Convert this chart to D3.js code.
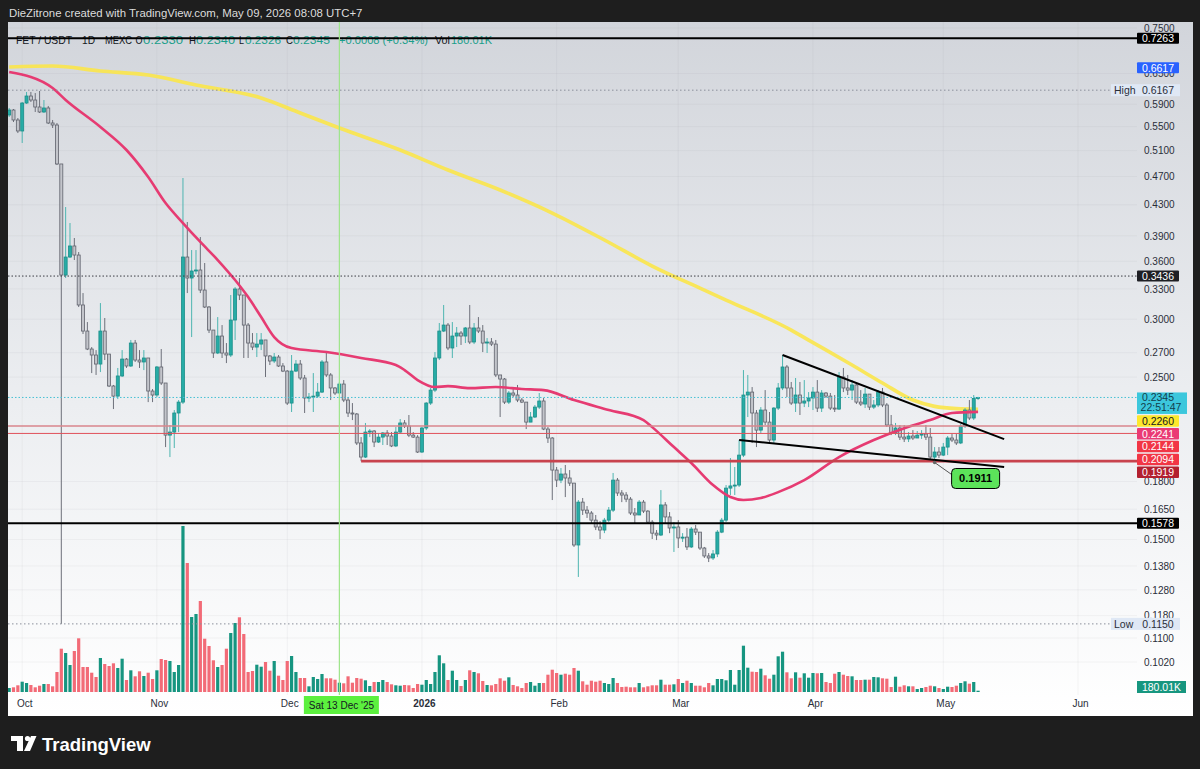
<!DOCTYPE html>
<html><head><meta charset="utf-8">
<script src="https://cdnjs.cloudflare.com/ajax/libs/d3/7.8.5/d3.min.js"></script>
<style>html,body{margin:0;padding:0;background:#1e1e1e;}svg{display:block}</style>
</head><body>
<svg id="chart" width="1200" height="769"></svg>
<script>
// ---------------- DATA ----------------
const startDay = "2025-09-28";   // first daily candle
const endDay = "2026-05-09";     // last daily candle
const firstOpen = 0.5704;
const closes = [0.5794,0.5615,0.5424,
0.5923,0.6055,0.5979,0.5849,0.5758,0.5831,0.5562,0.5527,0.4889,0.3447,0.3648,0.3777,0.3671,0.3137,0.2890,0.2731,0.2680,0.2605,0.2890,0.2688,0.2431,0.2355,0.2509,0.2646,0.2589,0.2783,0.2638,0.2622,0.2655,0.2393,0.2363,
0.2581,0.2454,0.2083,0.2103,0.2233,0.2311,0.3648,0.3415,0.3491,0.3502,0.3288,0.3117,0.2899,0.2697,0.2845,0.2697,0.2680,0.2992,0.3299,0.3237,0.2945,0.2783,0.2748,0.2774,0.2810,0.2672,0.2630,0.2663,0.2589,0.2548,
0.2304,0.2548,0.2605,0.2493,0.2341,0.2348,0.2355,0.2385,0.2622,0.2517,0.2416,0.2378,0.2446,0.2326,0.2233,0.2226,0.2032,0.1944,0.2103,0.2110,0.2038,0.2070,0.2097,0.2077,0.2013,0.2103,0.2164,0.2143,0.2083,0.2070,0.1975,
0.2130,0.2304,0.2400,0.2655,0.2890,0.2945,0.2740,0.2845,0.2872,0.2845,0.2918,0.2792,0.2918,0.2890,0.2783,0.2792,0.2774,0.2517,0.2485,0.2311,0.2378,0.2363,0.2326,0.2311,0.2170,0.2205,0.2275,0.2319,0.2123,0.2064,0.1866,
0.1808,0.1843,0.1820,0.1791,0.1474,0.1687,0.1645,0.1630,0.1594,0.1560,0.1545,0.1594,0.1645,0.1808,0.1736,0.1725,0.1703,0.1630,0.1620,0.1687,0.1640,0.1584,0.1530,0.1521,0.1672,0.1610,0.1555,0.1560,
0.1507,0.1511,0.1465,0.1550,0.1535,0.1460,0.1424,0.1415,0.1433,0.1535,0.1594,0.1763,0.1775,0.1780,0.1956,0.2363,0.2385,0.2233,0.2116,0.2254,0.2170,0.2051,0.2268,0.2416,0.2581,0.2416,0.2304,0.2363,0.2304,0.2319,0.2341,
0.2385,0.2268,0.2378,0.2355,0.2268,0.2261,0.2501,0.2416,0.2400,0.2439,0.2311,0.2297,0.2370,0.2275,0.2290,0.2385,0.2290,0.2150,0.2097,0.2130,0.2070,0.2058,0.2077,0.2064,0.2083,0.2090,0.2070,0.1944,0.1975,0.1956,
0.2006,0.2064,0.2051,0.2032,0.2143,0.2254,0.2198,0.2337,0.2345];
const highs = [0.5831,0.5812,0.5650,
0.5942,0.6132,0.6132,0.6112,0.6151,0.5979,0.5868,0.5615,0.5562,0.4889,0.4270,0.4060,0.3873,0.3706,0.3257,0.2973,0.2748,0.2722,0.3156,0.3011,0.2680,0.2439,0.2573,0.2722,0.2655,0.2810,0.2810,0.2722,0.2722,0.2638,0.2408,
0.2589,0.2731,0.2454,0.2150,0.2254,0.2326,0.4678,0.4073,0.3729,0.3729,0.3885,0.3580,0.3127,0.2899,0.3020,0.2945,0.2783,0.3237,0.3319,0.3415,0.3156,0.2964,0.2872,0.2872,0.2872,0.2810,0.2680,0.2697,0.2680,0.2613,
0.2556,0.2680,0.2638,0.2638,0.2517,0.2378,0.2532,0.2454,0.2638,0.2705,0.2532,0.2423,0.2462,0.2477,0.2348,0.2304,0.2233,0.2070,0.2164,0.2123,0.2116,0.2097,0.2103,0.2116,0.2103,0.2137,0.2191,0.2184,0.2219,0.2103,0.2083,
0.2137,0.2311,0.2416,0.2705,0.2964,0.3137,0.2964,0.2973,0.2927,0.2890,0.2927,0.3137,0.2964,0.3020,0.2945,0.2827,0.2827,0.2810,0.2517,0.2493,0.2393,0.2423,0.2439,0.2341,0.2311,0.2240,0.2290,0.2378,0.2341,0.2137,0.2070,
0.1884,0.1878,0.1896,0.1866,0.1791,0.1698,0.1709,0.1666,0.1640,0.1620,0.1589,0.1605,0.1661,0.1849,0.1820,0.1752,0.1741,0.1714,0.1656,0.1698,0.1698,0.1645,0.1594,0.1545,0.1752,0.1687,0.1635,0.1584,
0.1594,0.1530,0.1555,0.1560,0.1570,0.1535,0.1465,0.1437,0.1451,0.1545,0.1605,0.1780,0.1938,0.1884,0.2051,0.2556,0.2517,0.2423,0.2254,0.2275,0.2400,0.2240,0.2275,0.2454,0.2680,0.2597,0.2462,0.2493,0.2462,0.2477,0.2385,
0.2423,0.2477,0.2400,0.2385,0.2378,0.2363,0.2540,0.2573,0.2517,0.2477,0.2454,0.2400,0.2416,0.2341,0.2326,0.2400,0.2416,0.2304,0.2219,0.2164,0.2150,0.2150,0.2103,0.2116,0.2110,0.2116,0.2150,0.2130,0.2006,0.2006,
0.2032,0.2077,0.2090,0.2090,0.2157,0.2268,0.2326,0.2363,0.2349];
const lows = [0.5668,0.5579,0.5389,
0.5223,0.5905,0.5942,0.5758,0.5740,0.5740,0.5544,0.5475,0.4873,0.1150,0.3415,0.3637,0.3614,0.3117,0.2863,0.2722,0.2532,0.2517,0.2540,0.2638,0.2423,0.2261,0.2333,0.2501,0.2573,0.2581,0.2622,0.2573,0.2556,0.2311,0.2311,
0.2348,0.2439,0.2006,0.1944,0.2000,0.2103,0.2297,0.3257,0.2836,0.3458,0.3257,0.3107,0.2872,0.2655,0.2688,0.2655,0.2613,0.2663,0.2810,0.3186,0.2655,0.2655,0.2722,0.2663,0.2722,0.2501,0.2597,0.2613,0.2581,0.2540,
0.2290,0.2240,0.2540,0.2477,0.2233,0.2311,0.2240,0.2341,0.2378,0.2501,0.2326,0.2363,0.2378,0.2311,0.2205,0.2184,0.2019,0.1919,0.1938,0.2070,0.2006,0.2032,0.2019,0.2019,0.2006,0.2006,0.2097,0.2130,0.2070,0.2064,0.1969,
0.1969,0.2116,0.2290,0.2385,0.2638,0.2881,0.2722,0.2655,0.2748,0.2766,0.2783,0.2774,0.2774,0.2872,0.2705,0.2697,0.2757,0.2501,0.2205,0.2297,0.2297,0.2348,0.2311,0.2304,0.2123,0.2170,0.2198,0.2261,0.2116,0.2032,0.1698,
0.1769,0.1791,0.1714,0.1775,0.1465,0.1333,0.1620,0.1605,0.1579,0.1545,0.1502,0.1530,0.1584,0.1635,0.1720,0.1687,0.1687,0.1620,0.1579,0.1620,0.1630,0.1579,0.1502,0.1497,0.1516,0.1579,0.1530,0.1442,
0.1460,0.1488,0.1451,0.1460,0.1521,0.1451,0.1415,0.1397,0.1406,0.1419,0.1530,0.1584,0.1725,0.1725,0.1769,0.1944,0.2205,0.2032,0.2006,0.2097,0.2150,0.2032,0.2032,0.2254,0.2400,0.2348,0.2290,0.2240,0.2219,0.2275,0.2275,
0.2254,0.2240,0.2240,0.2341,0.2254,0.2240,0.2254,0.2385,0.2363,0.2326,0.2297,0.2283,0.2268,0.2254,0.2261,0.2275,0.2275,0.2137,0.2083,0.2083,0.2051,0.2038,0.2038,0.2051,0.2064,0.2058,0.2051,0.1932,0.1911,0.1938,
0.1950,0.1956,0.2038,0.2019,0.2025,0.2130,0.2184,0.2184,0.2326];
// volume in thousands
const volumesK = [554,651,928,
1427,1247,970,651,873,1108,1108,789,2770,5997,5402,3740,5679,7437,3463,3463,2673,2078,4709,3878,3601,3975,3324,4612,1662,3005,2174,2867,2216,2673,1801,
3005,4571,4432,4294,2770,3740,22991,17867,10388,10803,12604,7382,6371,4390,3463,3740,5997,8172,9557,10346,8033,2770,2909,3781,3504,4155,2950,4294,2258,1662,
4294,4986,2770,1939,1939,789,2078,1801,2493,1897,1897,1704,1288,1205,2174,1288,1939,1842,1620,831,1385,1385,1662,1385,1066,928,873,970,928,554,1108,
1011,1662,1108,2770,5083,3975,1662,2950,1662,831,1662,3005,2770,2590,1524,970,928,1108,1897,1565,2036,970,789,554,1247,1385,873,1247,1247,2396,3089,
2632,2396,2535,2396,3324,2950,1482,1011,1565,1427,1565,1247,1108,1939,1247,693,734,651,651,1247,651,789,928,928,1704,1011,1011,1066,
1801,1247,1565,1247,873,873,651,1247,928,1801,1801,1620,3047,1011,3047,6413,3366,2812,2770,3227,2313,1842,2396,4944,5582,2728,1897,2728,1981,2590,1981,
2632,2590,2632,1385,1247,2535,2770,2396,2216,2174,1662,1662,1704,1704,2078,2036,1897,1842,693,2119,734,928,789,789,416,554,693,873,789,554,
416,734,693,873,1247,1482,1150,1385,180.01];

// moving averages (read at sample dates)
const ma200Dates = ["2025-09-28","2025-10-08","2025-10-19","2025-10-30","2025-11-10","2025-11-25","2025-12-04","2025-12-13","2025-12-27","2026-01-07","2026-01-19","2026-01-31","2026-02-12","2026-02-23","2026-03-07","2026-03-12","2026-03-27","2026-03-31","2026-04-10","2026-04-17","2026-04-24","2026-04-29","2026-05-04","2026-05-09"];
const ma200Values = [0.6633,0.6654,0.6550,0.6468,0.6269,0.6018,0.5740,0.5475,0.5109,0.4797,0.4505,0.4190,0.3849,0.3546,0.3288,0.3186,0.2899,0.2809,0.2597,0.2454,0.2326,0.2280,0.2264,0.2260];
const ma50Dates = ["2025-09-28","2025-10-08","2025-10-11","2025-10-19","2025-10-25","2025-10-30","2025-11-03","2025-11-07","2025-11-11","2025-11-15","2025-11-19","2025-11-22","2025-11-25","2025-11-28","2025-12-02","2025-12-10","2025-12-18","2025-12-26","2025-12-28","2025-12-31","2026-01-04","2026-01-07","2026-01-12","2026-01-18","2026-01-24","2026-01-29","2026-02-05","2026-02-13","2026-02-21","2026-02-23","2026-02-28","2026-03-04","2026-03-09","2026-03-13","2026-03-16","2026-03-20","2026-03-24","2026-03-30","2026-04-07","2026-04-15","2026-04-22","2026-04-28","2026-05-03","2026-05-09"];
const ma50Values = [0.6530,0.6210,0.5980,0.5493,0.5109,0.4693,0.4324,0.4060,0.3825,0.3614,0.3393,0.3216,0.3020,0.2836,0.2739,0.2705,0.2655,0.2597,0.2556,0.2477,0.2423,0.2430,0.2415,0.2423,0.2408,0.2400,0.2326,0.2254,0.2184,0.2136,0.2006,0.1908,0.1780,0.1714,0.1698,0.1709,0.1741,0.1808,0.1944,0.2051,0.2129,0.2184,0.2233,0.2241];

const priceTicks = [0.7500,0.6500,0.5900,0.5500,0.5100,0.4700,0.4300,0.3900,0.3600,0.3300,0.3000,0.2700,0.2500,0.1800,0.1650,0.1500,0.1380,0.1280,0.1180,0.1100,0.1020];
const monthTicks = ["2025-10-01","2025-11-01","2025-12-01","2026-01-01","2026-02-01","2026-03-01","2026-04-01","2026-05-01","2026-06-01"];
const monthLabels = ["Oct","Nov","Dec","2026","Feb","Mar","Apr","May","Jun"];

// drawn levels
const blackLevels = [0.7263, 0.1578];
const redLevels = [0.2144, 0.2094];
const supportLevel = 0.1919, supportFrom = "2025-12-18";
const dottedLevel = 0.3436;
const highLevel = 0.6167, lowLevel = 0.1150;
const lastPrice = 0.2345;
const blueMark = 0.6617;
const trendUpper = [["2026-03-25",0.2680],["2026-05-15",0.2057]];
const trendLower = [["2026-03-15",0.2051],["2026-05-15",0.1884]];
const calloutDate = "2026-04-29", calloutPrice = 0.1911;
const markedDay = "2025-12-13", markedLabel = "Sat 13 Dec '25";
const countdown = "22:51:47";
// [text, x, width, kind]
const legendParts = [["FET / USDT",16,56,"k"],["1D",82,13,"k"],["MEXC",105,27,"k"],["O",135.5,7,"k"],["0.2330",143,40,"v"],["H",189,7,"k"],["0.2340",196,39,"v"],["L",239,5,"k"],["0.2326",245,36,"v"],["C",286,7,"k"],["0.2345",293,37,"v"],["+0.0008 (+0.34%)",339,89,"v"],["Vol",435,15,"k"],["180.01K",451,41,"v"]];
const title = "DieZitrone created with TradingView.com, May 09, 2026 08:08 UTC+7";

// ---------------- SETUP ----------------
const n = closes.length;
if (highs.length!==n || lows.length!==n || volumesK.length!==n) throw new Error("length mismatch "+[n,highs.length,lows.length,volumesK.length]);
const pd = d3.utcParse("%Y-%m-%d");
const days = d3.utcDay.range(pd(startDay), d3.utcDay.offset(pd(endDay),1));
if (days.length!==n) throw new Error("days mismatch "+days.length+" vs "+n);

const candles = closes.map((c,i)=>{
  const o = i===0 ? firstOpen : closes[i-1];
  return {date:days[i], o, c, h:Math.max(highs[i],o,c), l:Math.min(lows[i],o,c), v:volumesK[i]};
});

const FONT = "'Liberation Sans', Arial, sans-serif";
const pane = {left:8, right:1137, top:22, bottom:695};
const x = d3.scaleUtc().domain([pd("2025-10-01"), pd("2026-06-01")]).range([22.2, 1078.0]);
const y = d3.scaleLog().domain([0.1020, 0.7500]).range([662, 28]);
const yv = d3.scaleLinear().domain([0, d3.max(volumesK)]).range([692, 526]);

const svg = d3.select("#chart").style("font-family", FONT);
const defs = svg.append("defs");
const g0 = defs.append("linearGradient").attr("id","bg").attr("x1",0).attr("y1",0).attr("x2",0).attr("y2",1);
g0.append("stop").attr("offset","0%").attr("stop-color","#d2d5db");
g0.append("stop").attr("offset","55%").attr("stop-color","#eceef1");
g0.append("stop").attr("offset","100%").attr("stop-color","#ffffff");
defs.append("clipPath").attr("id","clip").append("rect")
  .attr("x",pane.left).attr("y",pane.top).attr("width",pane.right-pane.left).attr("height",pane.bottom-pane.top);

svg.append("rect").attr("width",1200).attr("height",769).attr("fill","#1e1e1e");
svg.append("rect").attr("x",8).attr("y",22).attr("width",1185).attr("height",694).attr("fill","url(#bg)");

// title
svg.append("text").attr("x",9).attr("y",17).attr("fill","#dcdcdc").attr("font-size",11.4).text(title);

// grid
const grid = svg.append("g").attr("clip-path","url(#clip)");
grid.selectAll("line.h").data(priceTicks).join("line")
  .attr("x1",pane.left).attr("x2",pane.right).attr("y1",d=>y(d)).attr("y2",d=>y(d))
  .attr("stroke","#9aa0ab").attr("stroke-opacity",0.10);
grid.selectAll("line.v").data(monthTicks).join("line")
  .attr("x1",d=>x(pd(d))).attr("x2",d=>x(pd(d))).attr("y1",pane.top).attr("y2",pane.bottom)
  .attr("stroke","#9aa0ab").attr("stroke-opacity",0.10);

// legend
const leg = svg.append("g").attr("font-size",11.5);
legendParts.forEach(([t,px,w,k])=>{
  leg.append("text").attr("x",px).attr("y",44).attr("textLength",w).attr("lengthAdjust","spacingAndGlyphs")
    .attr("fill", k==="v" ? "#1a9e8a" : "#131722").text(t);
});

const plot = svg.append("g").attr("clip-path","url(#clip)");

// volume
plot.selectAll("rect.vol").data(candles).join("rect")
  .attr("x",d=>x(d.date)-1.6).attr("width",3.2)
  .attr("y",d=>yv(d.v)).attr("height",d=>Math.max(0.8, yv(0)-yv(d.v)))
  .attr("fill",d=>d.c>=d.o ? "#169580" : "#f26b77");

// MA lines
const maLine = d3.line().x(d=>x(d[0])).y(d=>y(d[1])).curve(d3.curveMonotoneX);
plot.append("path").datum(ma200Dates.map((d,i)=>[pd(d),ma200Values[i]]))
  .attr("d",maLine).attr("fill","none").attr("stroke","#fbe64a").attr("stroke-width",3.6).attr("stroke-opacity",0.9);

// candles
const cg = plot.append("g");
cg.selectAll("line.wick").data(candles).join("line")
  .attr("x1",d=>x(d.date)).attr("x2",d=>x(d.date))
  .attr("y1",d=>y(d.h)).attr("y2",d=>y(d.l))
  .attr("stroke",d=>d.c>=d.o ? "#4db5b0" : "#6d707a").attr("stroke-width",1);
cg.selectAll("rect.body").data(candles).join("rect")
  .attr("x",d=>x(d.date)-1.5).attr("width",3)
  .attr("y",d=>y(Math.max(d.o,d.c)))
  .attr("height",d=>Math.max(1, Math.abs(y(d.o)-y(d.c))))
  .attr("fill",d=>d.c>=d.o ? "#27aca6" : "#c3c5cb")
  .attr("stroke",d=>d.c>=d.o ? "#1b8e89" : "#5f626c").attr("stroke-width",0.8);

plot.append("path").datum(ma50Dates.map((d,i)=>[pd(d),ma50Values[i]]))
  .attr("d",maLine).attr("fill","none").attr("stroke","#e63b72").attr("stroke-width",2.6);

// levels
const lv = svg.append("g");
function hline(v, x1, x2, color, w, dash){
  lv.append("line").attr("x1",x1).attr("x2",x2).attr("y1",y(v)).attr("y2",y(v))
    .attr("stroke",color).attr("stroke-width",w).attr("stroke-dasharray",dash||null);
}
hline(highLevel, pane.left, 1111, "#8b8f9a", 1, "1.5,2.5");
hline(lowLevel, pane.left, 1111, "#8b8f9a", 1, "1.5,2.5");
hline(dottedLevel, pane.left, pane.right, "#3b3d44", 1, "1.5,2");
hline(lastPrice, pane.left, pane.right, "#46c0d4", 1, "1.5,2");
hline(redLevels[0], pane.left, pane.right, "#d9868c", 1.6);
hline(redLevels[1], pane.left, pane.right, "#e0505a", 1);
hline(supportLevel, x(pd(supportFrom)), pane.right, "#c8434e", 2.8);
blackLevels.forEach(v=>hline(v, pane.left, pane.right, "#000000", 2));

// trend lines
[trendUpper, trendLower].forEach(t=>{
  lv.append("line").attr("x1",x(pd(t[0][0]))).attr("y1",y(t[0][1]))
    .attr("x2",x(pd(t[1][0]))).attr("y2",y(t[1][1]))
    .attr("stroke","#000").attr("stroke-width",2);
});

// marked day vertical line
const mx = x(pd(markedDay));
lv.append("line").attr("x1",mx).attr("x2",mx).attr("y1",pane.top).attr("y2",pane.bottom)
  .attr("stroke","#9ee58a").attr("stroke-width",1.2);

// callout
const cx = x(pd(calloutDate)), cy = y(calloutPrice);
lv.append("line").attr("x1",cx).attr("y1",cy).attr("x2",cx+17).attr("y2",cy+12).attr("stroke","#555").attr("stroke-width",1);
lv.append("circle").attr("cx",cx).attr("cy",cy).attr("r",1.8).attr("fill","#666");
lv.append("rect").attr("x",cx+17).attr("y",cy+6).attr("width",48).attr("height",20).attr("rx",4)
  .attr("fill","#5ce35a").attr("stroke","#000").attr("stroke-width",1);
lv.append("text").attr("x",cx+41).attr("y",cy+20).attr("text-anchor","middle").attr("font-size",11)
  .attr("font-weight","bold").attr("fill","#000").text(d3.format(".4f")(calloutPrice));

// ---------------- AXES ----------------
const ya = svg.append("g").attr("transform",`translate(${pane.right},0)`)
  .call(d3.axisRight(y).tickValues(priceTicks).tickFormat(d3.format(".4f")).tickSize(0).tickPadding(7));
ya.select(".domain").remove();
ya.selectAll("text").attr("font-size",10).attr("fill","#2a2e39").attr("font-family",FONT);

const xa = svg.append("g").attr("transform",`translate(2,${pane.bottom})`)
  .call(d3.axisBottom(x).tickValues(monthTicks.map(pd)).tickFormat((d,i)=>monthLabels[i]).tickSize(0).tickPadding(5));
xa.select(".domain").remove();
xa.selectAll("text").attr("font-size",10).attr("fill","#2a2e39").attr("font-family",FONT)
  .attr("font-weight",(d,i)=>monthLabels[i]==="2026" ? "bold" : "normal");

// marked day label
svg.append("rect").attr("x",mx+2-37.5).attr("y",696).attr("width",75).attr("height",18).attr("fill","#5cf03e");
svg.append("text").attr("x",mx+2).attr("y",708.5).attr("text-anchor","middle").attr("font-size",10).attr("fill","#131722").text(markedLabel);

// ---------------- PRICE LABELS ----------------
const lab = svg.append("g").attr("font-size",10.5);
function box(top, h, txt, fill, color, x0, w){
  lab.append("rect").attr("x",x0||pane.right).attr("y",top).attr("width",w||42).attr("height",h).attr("fill",fill).attr("rx",1);
  lab.append("text").attr("x",(x0||pane.right)+(w||42)/2).attr("y",top+h/2+3.7).attr("text-anchor","middle").attr("fill",color).text(txt);
}
const f4 = d3.format(".4f");
box(y(blackLevels[0])-5.5, 11, f4(blackLevels[0]), "#000", "#fff");
box(y(blueMark)-5.5, 11, f4(blueMark), "#2962ff", "#fff");
box(y(dottedLevel)-5.5, 11, f4(dottedLevel), "#1e1f24", "#fff");
box(y(blackLevels[1])-5.5, 11, f4(blackLevels[1]), "#000", "#fff");

// high / low
[[highLevel,"High"],[lowLevel,"Low"]].forEach(([v,t])=>{
  lab.append("rect").attr("x",1111).attr("y",y(v)-6).attr("width",69).attr("height",12).attr("fill","#dfe8f5");
  lab.append("text").attr("x",1114).attr("y",y(v)+3.7).attr("fill","#2a2e39").text(t);
  lab.append("text").attr("x",1158).attr("y",y(v)+3.7).attr("text-anchor","middle").attr("fill","#2a2e39").text(f4(v));
});

// last price + stacked labels
const lastTop = y(lastPrice)-5;
lab.append("rect").attr("x",pane.right).attr("y",lastTop).attr("width",50).attr("height",21.5).attr("fill","#3cc7dc");
lab.append("text").attr("x",pane.right+21).attr("y",lastTop+9).attr("text-anchor","middle").attr("fill","#123f4c").text(f4(lastPrice));
lab.append("text").attr("x",pane.right+24).attr("y",lastTop+19).attr("text-anchor","middle").attr("fill","#123f4c").text(countdown);
const stack = [
  [ma200Values[ma200Values.length-1], "#fde82c", "#131722"],
  [ma50Values[ma50Values.length-1], "#ea3a74", "#fff"],
  [redLevels[0], "#f23645", "#fff"],
  [redLevels[1], "#f23645", "#fff"],
  [supportLevel, "#b3202f", "#fff"]
];
let prevBottom = lastTop + 21.5;
stack.forEach(([v,fill,col])=>{
  const h = 11.5;
  const top = Math.max(y(v)-h/2, prevBottom+1.3);
  box(top, h, f4(v), fill, col);
  prevBottom = top + h;
});

// volume label
const lastVol = volumesK[n-1];
const vTop = Math.min(yv(lastVol)-6, pane.bottom-14);
lab.append("rect").attr("x",pane.right).attr("y",vTop).attr("width",49).attr("height",12).attr("fill","#17967f");
lab.append("text").attr("x",pane.right+24.5).attr("y",vTop+9.7).attr("text-anchor","middle").attr("fill","#fff").text(d3.format(".2f")(lastVol)+"K");

// ---------------- FOOTER LOGO ----------------
const logo = svg.append("g").attr("fill","#ffffff");
logo.append("rect").attr("x",11).attr("y",736).attr("width",12).attr("height",5);
logo.append("rect").attr("x",17).attr("y",736).attr("width",6).attr("height",15);
logo.append("circle").attr("cx",27.5).attr("cy",738.5).attr("r",2.6);
logo.append("path").attr("d","M24,751 L30,751 L36.5,736 L31,736 Z");
svg.append("text").attr("x",42).attr("y",751).attr("font-size",18.5).attr("font-weight",600).attr("fill","#fff").text("TradingView");
</script>
</body></html>
